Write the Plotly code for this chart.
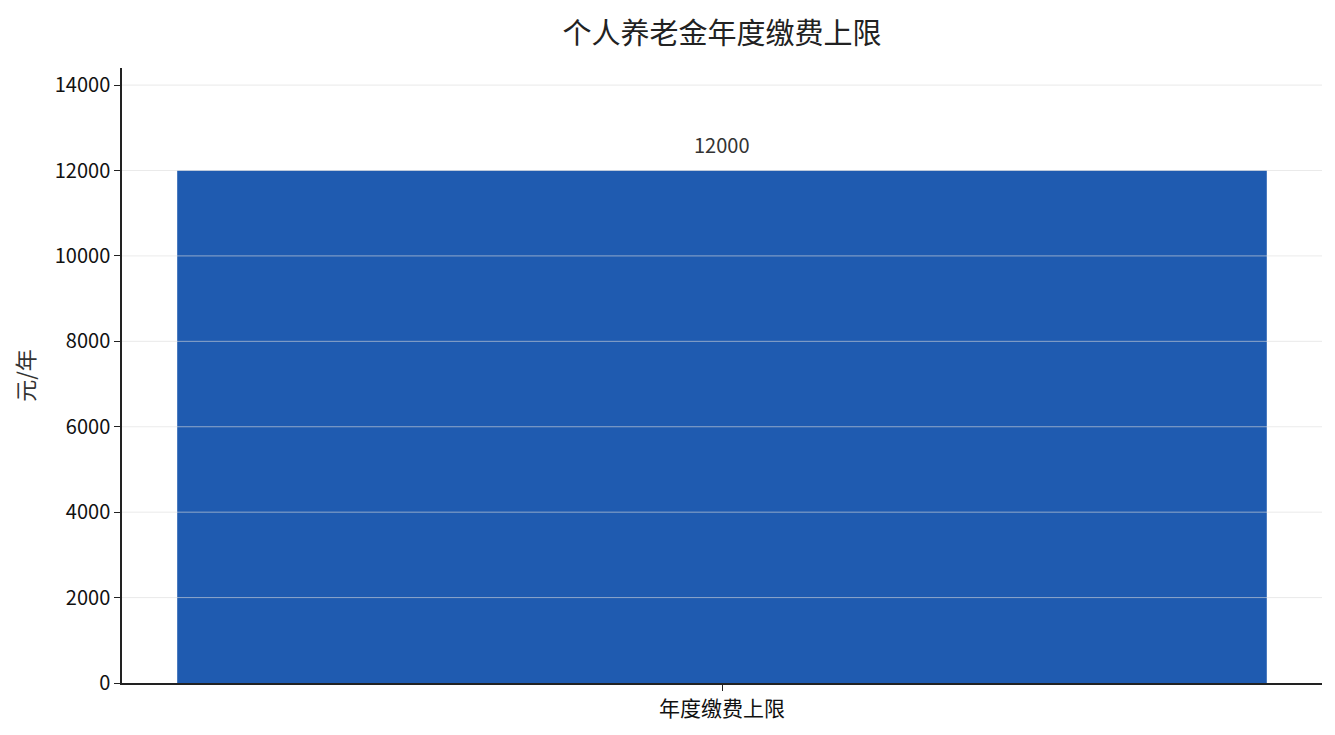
import plotly.graph_objects as go

categories = ['年度缴费上限']
values = [12000]
y_ticks = [0, 2000, 4000, 6000, 8000, 10000, 12000, 14000]

font_family = 'Noto Sans CJK SC'

fig = go.Figure(data=[
    go.Bar(x=categories, y=values, marker_color='#1f5bb0',
           marker_line_width=0, width=0.908)
])

# value label above the bar
for c, v in zip(categories, values):
    fig.add_annotation(x=c, y=v, text=str(v), showarrow=False, yanchor='bottom', yshift=10,
                       font=dict(size=20, color='#333333'))

# grid drawn on top of the bar (semi-transparent)
for t in y_ticks[1:]:
    fig.add_shape(type='line', xref='paper', x0=0, x1=1, yref='y', y0=t, y1=t,
                  line=dict(color='rgba(220,220,220,0.6)', width=1), layer='above')

# page body adds an 8px offset, margins compensate for it
fig.update_layout(
    width=1335, height=735,
    margin=dict(l=114, r=21, t=60, b=60),
    paper_bgcolor='white', plot_bgcolor='white',
    font=dict(family=font_family, size=20, color='#111111'),
    title=dict(text='个人养老金年度缴费上限', x=0.5, xref='paper', xanchor='center',
               yref='container', y=0.965, yanchor='middle',
               font=dict(size=29, color='#222222')),
    showlegend=False,
)
fig.update_yaxes(range=[0, 14400], tickvals=y_ticks, tickformat='d', showgrid=False,
                 showline=True, linecolor='#222222', linewidth=1.5, ticks='outside',
                 ticklen=6, tickcolor='#222222', zeroline=False,
                 tickfont=dict(size=20),
                 title=dict(text='元/年', font=dict(size=22, color='#333333'), standoff=14))
fig.update_xaxes(showline=True, linecolor='#222222', linewidth=1.5, ticks='outside',
                 ticklen=6, tickcolor='#222222', showgrid=False,
                 tickfont=dict(size=21))

fig.write_html('out.html')
